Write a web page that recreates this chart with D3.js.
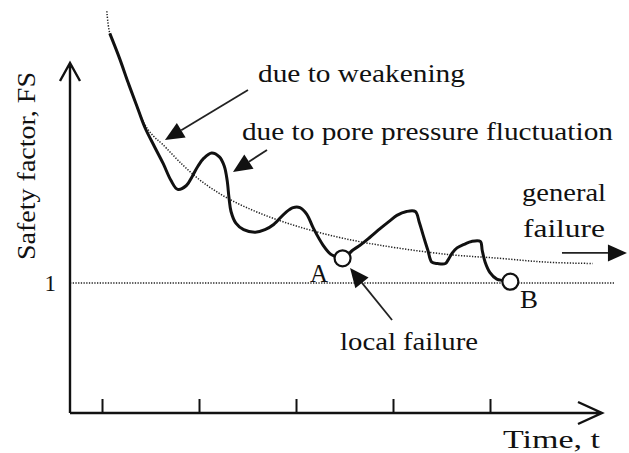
<!DOCTYPE html>
<html>
<head>
<meta charset="utf-8">
<script src="https://cdn.jsdelivr.net/npm/d3@7"></script>
<style>
  body { margin: 0; background: #fff; }
  svg { display: block; }
</style>
</head>
<body>
<svg width="629" height="453"></svg>
<script>
// time values (arbitrary units) and safety factor
var fsTime = [1.08, 1.18, 1.27, 1.36, 1.44, 1.54, 1.63, 1.71, 1.78, 1.87, 1.93, 1.99, 2.05, 2.13, 2.21, 2.26, 2.29, 2.31, 2.33, 2.38, 2.46, 2.58, 2.68, 2.77, 2.89, 2.97, 3.04, 3.11, 3.18, 3.28, 3.36, 3.42, 3.48, 3.58, 3.66, 3.76, 3.87, 3.97, 4.04, 4.14, 4.23, 4.27, 4.31, 4.36, 4.40, 4.46, 4.54, 4.57, 4.61, 4.66, 4.74, 4.81, 4.90, 4.92, 4.95, 5.00, 5.07, 5.13, 5.21];
var fsValue = [2.92, 2.73, 2.54, 2.36, 2.20, 2.05, 1.92, 1.79, 1.72, 1.75, 1.82, 1.90, 1.96, 2.00, 1.97, 1.90, 1.79, 1.65, 1.55, 1.46, 1.41, 1.39, 1.41, 1.45, 1.54, 1.58, 1.58, 1.53, 1.42, 1.29, 1.22, 1.20, 1.18, 1.25, 1.29, 1.35, 1.42, 1.48, 1.52, 1.55, 1.55, 1.47, 1.37, 1.25, 1.16, 1.15, 1.15, 1.18, 1.23, 1.27, 1.30, 1.32, 1.32, 1.25, 1.16, 1.08, 1.03, 1.02, 1.01];

// weakening trend (dotted)
var trendTime = [1.05, 1.08, 1.18, 1.27, 1.36, 1.44, 1.53, 1.62, 1.83, 2.03, 2.30, 2.65, 3.04, 3.45, 3.87, 4.56, 5.10, 5.59, 6.06];
var trendValue = [3.09, 2.92, 2.73, 2.54, 2.36, 2.22, 2.13, 2.07, 1.91, 1.78, 1.65, 1.53, 1.43, 1.35, 1.29, 1.22, 1.19, 1.16, 1.15];

var xTicks = [1, 2, 3, 4, 5];
var yTicks = [1];
var limitFS = 1;
var limitEnd = 6.29;

// failure points A and B
var failNames = ["A", "B"];
var failTime = [3.48, 5.21];
var failValue = [1.19, 1.01];

var serif = "'Liberation Serif', 'Times New Roman', serif";

function main() {
  var svg = d3.select("svg");

  var x = d3.scaleLinear().domain([0.67, 6.134]).range([70, 600]);
  var y = d3.scaleLinear().domain([0, 2.677]).range([413, 65]);

  var g = svg.append("g");

  // FS = 1 line
  g.append("line")
    .attr("x1", x(0.67)).attr("x2", x(limitEnd))
    .attr("y1", y(limitFS)).attr("y2", y(limitFS))
    .attr("stroke", "#222").attr("stroke-width", 1.5)
    .attr("stroke-dasharray", "1.3,1.4");

  var line = d3.line()
    .x(function(d) { return x(d[0]); })
    .y(function(d) { return y(d[1]); })
    .curve(d3.curveCatmullRom.alpha(0.5));

  var trend = trendTime.map(function(t, i) { return [t, trendValue[i]]; });
  g.append("path")
    .datum(trend)
    .attr("d", line)
    .attr("fill", "none")
    .attr("stroke", "#222").attr("stroke-width", 1.5)
    .attr("stroke-dasharray", "1.3,1.5");

  var fs = fsTime.map(function(t, i) { return [t, fsValue[i]]; });
  g.append("path")
    .datum(fs)
    .attr("d", line)
    .attr("fill", "none")
    .attr("stroke", "#111").attr("stroke-width", 3)
    .attr("stroke-linejoin", "round");

  g.selectAll(".fail")
    .data(failTime)
    .enter().append("circle")
    .attr("class", "fail")
    .attr("cx", function(d) { return x(d); })
    .attr("cy", function(d, i) { return y(failValue[i]); })
    .attr("r", 8)
    .attr("fill", "#fff")
    .attr("stroke", "#111").attr("stroke-width", 2.2);

  // axes
  var xAxis = g.append("g")
    .attr("transform", "translate(0," + y(0) + ")")
    .call(d3.axisBottom(x).tickValues(xTicks).tickSize(-14).tickFormat(""));
  xAxis.select(".domain").remove();
  xAxis.selectAll(".tick line").attr("stroke", "#111").attr("stroke-width", 2);

  var yAxis = g.append("g")
    .attr("transform", "translate(" + x(0.67) + ",0)")
    .call(d3.axisLeft(y).tickValues(yTicks).tickSize(0).tickPadding(14).tickFormat(d3.format("d")));
  yAxis.select(".domain").remove();
  yAxis.selectAll(".tick text")
    .style("font-family", serif)
    .attr("font-size", 23).attr("fill", "#111");

  var x0 = x(0.67), y0 = y(0);
  g.append("path")
    .attr("d", "M" + x0 + "," + y0 + "H602M578,402L602," + y0 + "L578,424")
    .attr("fill", "none").attr("stroke", "#111").attr("stroke-width", 2.4);
  g.append("path")
    .attr("d", "M" + x0 + "," + y0 + "V63M60,81L" + x0 + ",63L80,81")
    .attr("fill", "none").attr("stroke", "#111").attr("stroke-width", 2.4);

  // annotation arrows, in data units [t, FS]
  var arrows = [
    [[2.505, 2.485], [1.649, 2.10]],
    [[2.701, 2.023], [2.35, 1.854]],
    [[3.99, 0.715], [3.557, 1.115]],
    [[5.742, 1.231], [6.412, 1.231]]
  ];
  arrows.forEach(function(a) {
    var x1 = x(a[0][0]), y1 = y(a[0][1]), x2 = x(a[1][0]), y2 = y(a[1][1]);
    var ang = Math.atan2(y2 - y1, x2 - x1);
    var hl = 19, hw = 8.5;
    var bx = x2 - hl * Math.cos(ang), by = y2 - hl * Math.sin(ang);
    g.append("line")
      .attr("x1", x1).attr("y1", y1).attr("x2", bx).attr("y2", by)
      .attr("stroke", "#222").attr("stroke-width", 1.8);
    g.append("path")
      .attr("d", "M" + x2 + "," + y2 +
        "L" + (bx + hw * Math.sin(ang)) + "," + (by - hw * Math.cos(ang)) +
        "L" + (bx - hw * Math.sin(ang)) + "," + (by + hw * Math.cos(ang)) + "Z")
      .attr("fill", "#111");
  });

  // labels: text, [t, FS] of baseline start, drawn width
  var labels = [
    ["due to weakening", 2.608, 2.546, 207],
    ["due to pore pressure fluctuation", 2.443, 2.10, 371],
    ["general", 5.33, 1.631, 84],
    ["failure", 5.34, 1.354, 82],
    ["local failure", 3.454, 0.485, 138]
  ];
  labels.forEach(function(l) {
    g.append("text")
      .attr("x", x(l[1])).attr("y", y(l[2]))
      .style("font-family", serif)
      .attr("font-size", 25).attr("fill", "#111")
      .attr("textLength", l[3]).attr("lengthAdjust", "spacingAndGlyphs")
      .text(l[0]);
  });

  var failLabelPos = [[3.144, 1.008], [5.309, 0.808]];
  failNames.forEach(function(n, i) {
    g.append("text")
      .attr("x", x(failLabelPos[i][0])).attr("y", y(failLabelPos[i][1]))
      .style("font-family", serif)
      .attr("font-size", 25).attr("fill", "#111")
      .attr("textLength", 18).attr("lengthAdjust", "spacingAndGlyphs")
      .text(n);
  });

  svg.append("text")
    .attr("x", 503).attr("y", 448)
    .style("font-family", serif)
    .attr("font-size", 26).attr("fill", "#111")
    .attr("textLength", 97).attr("lengthAdjust", "spacingAndGlyphs")
    .text("Time, t");

  svg.append("text")
    .attr("transform", "translate(35,260) rotate(-90)")
    .style("font-family", serif)
    .attr("font-size", 25).attr("fill", "#111")
    .attr("textLength", 188).attr("lengthAdjust", "spacingAndGlyphs")
    .text("Safety factor, FS");
}
main();
</script>
</body>
</html>
